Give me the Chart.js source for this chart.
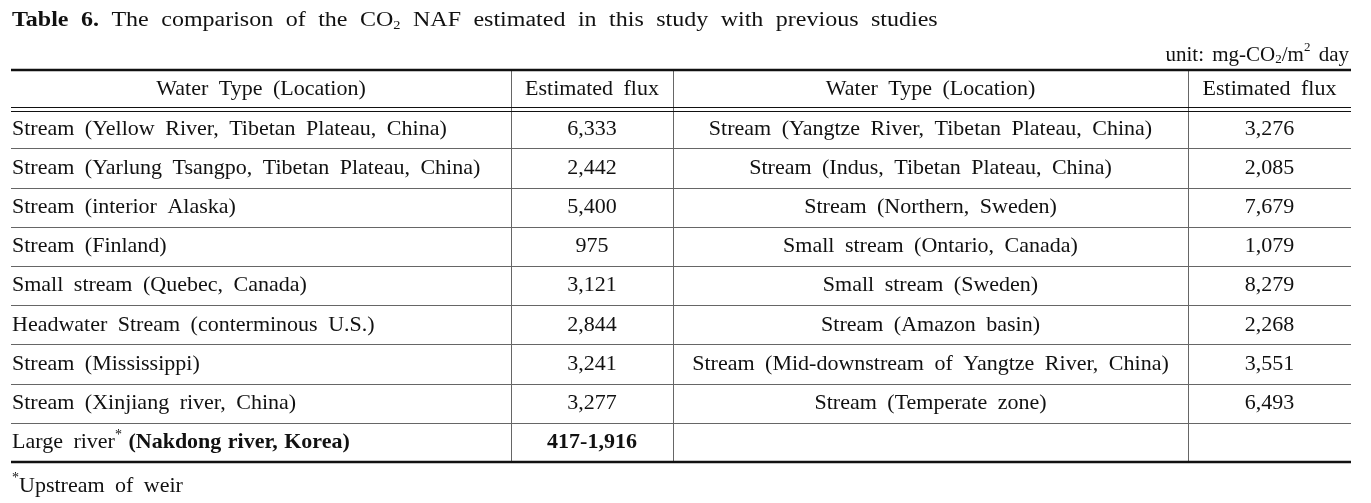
<!DOCTYPE html>
<html>
<head>
<meta charset="utf-8">
<script src="https://cdn.jsdelivr.net/npm/chart.js@4/dist/chart.umd.min.js"></script>
<style>
  html, body { margin: 0; padding: 0; background: #fff; }
  canvas { display: block; }
</style>
</head>
<body>
<canvas id="tableChart" width="1371" height="503"></canvas>
<script>
var headers = ['Water Type (Location)', 'Estimated flux', 'Water Type (Location)', 'Estimated flux'];

var leftTypes = [
  'Stream (Yellow River, Tibetan Plateau, China)',
  'Stream (Yarlung Tsangpo, Tibetan Plateau, China)',
  'Stream (interior Alaska)',
  'Stream (Finland)',
  'Small stream (Quebec, Canada)',
  'Headwater Stream (conterminous U.S.)',
  'Stream (Mississippi)',
  'Stream (Xinjiang river, China)'
];
var leftFlux = [6333, 2442, 5400, 975, 3121, 2844, 3241, 3277];

var rightTypes = [
  'Stream (Yangtze River, Tibetan Plateau, China)',
  'Stream (Indus, Tibetan Plateau, China)',
  'Stream (Northern, Sweden)',
  'Small stream (Ontario, Canada)',
  'Small stream (Sweden)',
  'Stream (Amazon basin)',
  'Stream (Mid-downstream of Yangtze River, China)',
  'Stream (Temperate zone)'
];
var rightFlux = [3276, 2085, 7679, 1079, 8279, 2268, 3551, 6493];

var studyLabel = 'Large river';
var studySite = '(Nakdong river, Korea)';
var studyRange = [417, 1916];

window.addEventListener('load', function () {
  if (typeof Chart === 'undefined') return;

  var INK = '#111111';
  var RULE = '#666666';
  var FONT = "'Liberation Serif', 'Times New Roman', serif";
  var BODY = { size: 22, gap: 5, hscale: 1 };
  var TITLE = { size: 20, gap: 5.4, hscale: 1.2 };
  var UNIT = { size: 21, gap: 3, hscale: 1 };
  var colEdges = [0, 500, 662, 1177, 1340];
  var nRows = leftTypes.length + 2;

  function fmt(v) { return v.toLocaleString('en-US'); }

  function setFont(ctx, run, st) {
    var size = run.sup || run.sub ? Math.round(st.size * 0.62) : st.size;
    ctx.font = (run.bold ? 'bold ' : '') + size + 'px ' + FONT;
  }

  // lays out runs word by word, so the wide word gaps do not depend on ctx.wordSpacing
  function layoutRun(ctx, run, st, draw, x0, y) {
    setFont(ctx, run, st);
    var gap = run.gap != null ? run.gap : st.gap;
    var space = ctx.measureText(' ').width + gap;
    var dy = run.sup ? -st.size * 0.33 : run.sub ? st.size * 0.24 : 0;
    var x = x0;
    run.text.split(' ').forEach(function (word, i) {
      if (i > 0) x += space;
      if (draw && word) ctx.fillText(word, x, y + dy);
      x += ctx.measureText(word).width;
    });
    return x - x0;
  }

  function drawRuns(ctx, runs, x, y, align, st) {
    st = st || BODY;
    ctx.save();
    ctx.textBaseline = 'middle';
    ctx.textAlign = 'left';
    ctx.fillStyle = INK;
    var w = 0;
    runs.forEach(function (r) { w += layoutRun(ctx, r, st, false, 0, 0); });
    w *= st.hscale;
    var x0 = align === 'center' ? x - w / 2 : align === 'right' ? x - w : x;
    ctx.translate(x0, y);
    ctx.scale(st.hscale, 1);
    var cx = 0;
    runs.forEach(function (r) { cx += layoutRun(ctx, r, st, true, cx, 0); });
    ctx.restore();
  }

  var tablePlugin = {
    id: 'tablePlugin',
    afterDraw: function (chart) {
      var ctx = chart.ctx;
      var xs = chart.scales.x;
      var ys = chart.scales.y;
      var left = xs.getPixelForValue(colEdges[0]);
      var right = xs.getPixelForValue(colEdges[colEdges.length - 1]);
      var top = ys.getPixelForValue(0);
      var bottom = ys.getPixelForValue(nRows);

      ctx.save();
      // inner row rules
      ctx.strokeStyle = RULE;
      ctx.lineWidth = 1;
      for (var r = 2; r < nRows; r++) {
        var yy = Math.round(ys.getPixelForValue(r)) + 0.5;
        ctx.beginPath(); ctx.moveTo(left, yy); ctx.lineTo(right, yy); ctx.stroke();
      }
      // vertical rules
      for (var c = 1; c < colEdges.length - 1; c++) {
        var xx = Math.round(xs.getPixelForValue(colEdges[c])) + 0.5;
        ctx.beginPath(); ctx.moveTo(xx, top); ctx.lineTo(xx, bottom); ctx.stroke();
      }
      // header double rule
      ctx.strokeStyle = '#111';
      var hy = Math.round(ys.getPixelForValue(1));
      [hy - 1.5, hy + 2.5].forEach(function (y) {
        ctx.beginPath(); ctx.moveTo(left, y); ctx.lineTo(right, y); ctx.stroke();
      });
      // top and bottom thick rules
      ctx.lineWidth = 2.4;
      [top, bottom].forEach(function (y) {
        ctx.beginPath(); ctx.moveTo(left, y); ctx.lineTo(right, y); ctx.stroke();
      });
      ctx.restore();

      function colCenter(c) { return xs.getPixelForValue((colEdges[c] + colEdges[c + 1]) / 2); }
      function rowCenter(r) { return ys.getPixelForValue(r + 0.5); }

      headers.forEach(function (h, c) {
        drawRuns(ctx, [{ text: h }], colCenter(c), rowCenter(0), 'center');
      });
      leftTypes.forEach(function (t, i) {
        var y = rowCenter(i + 1);
        drawRuns(ctx, [{ text: t }], left + 1, y, 'left');
        drawRuns(ctx, [{ text: fmt(leftFlux[i]) }], colCenter(1), y, 'center');
        drawRuns(ctx, [{ text: rightTypes[i] }], colCenter(2), y, 'center');
        drawRuns(ctx, [{ text: fmt(rightFlux[i]) }], colCenter(3), y, 'center');
      });
      var ly = rowCenter(nRows - 1);
      drawRuns(ctx, [
        { text: studyLabel },
        { text: '*', sup: true },
        { text: ' ' + studySite, bold: true, gap: 1 }
      ], left + 1, ly, 'left');
      drawRuns(ctx, [{ text: fmt(studyRange[0]) + '-' + fmt(studyRange[1]), bold: true }],
        colCenter(1), ly, 'center');

      // caption, unit and footnote
      drawRuns(ctx, [
        { text: 'Table 6.', bold: true },
        { text: ' The comparison of the CO' },
        { text: '2', sub: true },
        { text: ' NAF estimated in this study with previous studies' }
      ], left + 1, 21, 'left', TITLE);
      drawRuns(ctx, [
        { text: 'unit: mg-CO' },
        { text: '2', sub: true },
        { text: '/m' },
        { text: '2', sup: true },
        { text: ' day' }
      ], right - 2, 55, 'right', UNIT);
      drawRuns(ctx, [
        { text: '*', sup: true },
        { text: 'Upstream of weir' }
      ], left + 1, 486, 'left');
    }
  };

  new Chart(document.getElementById('tableChart'), {
    type: 'scatter',
    data: { datasets: [{ data: [] }] },
    options: {
      responsive: false,
      animation: false,
      events: [],
      layout: { padding: { left: 11, right: 20, top: 70, bottom: 41 } },
      plugins: { legend: { display: false }, tooltip: { enabled: false } },
      scales: {
        x: { type: 'linear', display: false, min: colEdges[0], max: colEdges[colEdges.length - 1] },
        y: { type: 'linear', display: false, reverse: true, min: 0, max: nRows }
      }
    },
    plugins: [tablePlugin]
  });
});
</script>
</body>
</html>
